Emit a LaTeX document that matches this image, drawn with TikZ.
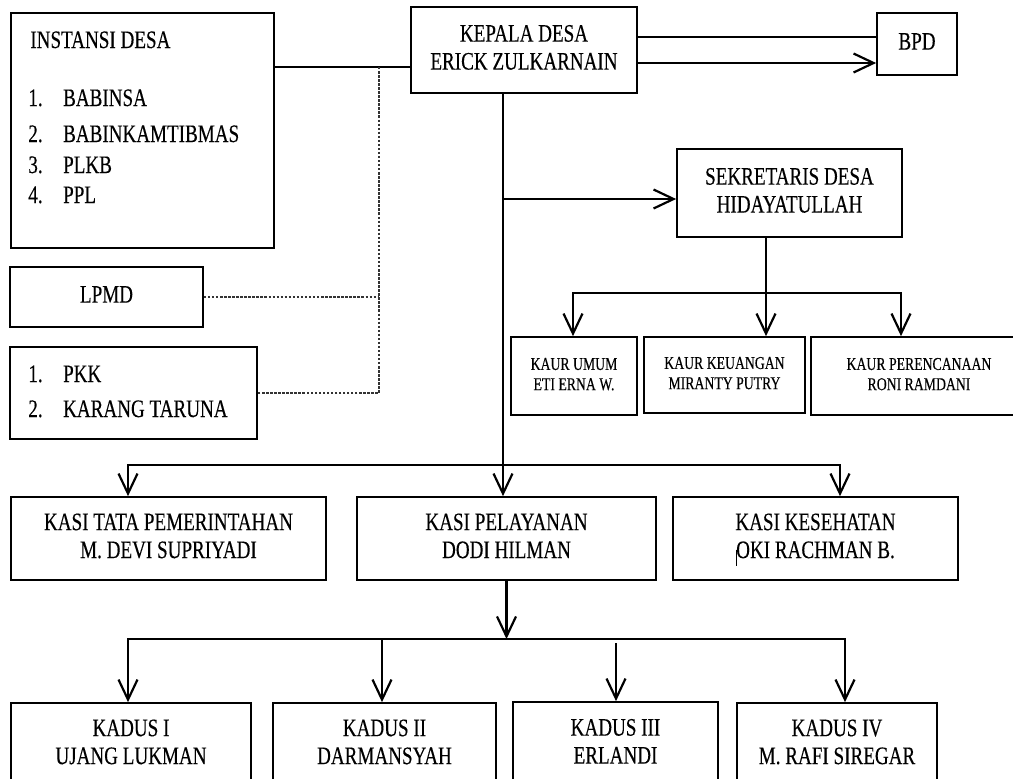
\documentclass[tikz,border=0pt]{standalone}
\usepackage{fontspec}
\setmainfont{Liberation Serif}[FakeStretch=0.76,FakeBold=0.3]
\usetikzlibrary{arrows.meta,calc}
\newcommand\cx[1]{\begin{tabular}{@{}c@{}}#1\end{tabular}}
\begin{document}
\begin{tikzpicture}[x=0.02cm,y=-0.02cm,
  >={Straight Barb[length=0.4cm,width=0.38cm]},
  box/.style={draw, line width=1pt, inner sep=0pt,
    font=\fontsize{14.3}{15.9}\selectfont},
  smallbox/.style={box, font=\fontsize{10.3}{11.5}\selectfont},
  span/.style n args={4}{at={({(#1+#3)/2},{(#2+#4)/2})},
    minimum width={(#3-#1)*0.02cm}, minimum height={(#4-#2)*0.02cm}},
  conn/.style={line width=1.25pt},
  arr/.style={conn, ->},
  dotline/.style={line width=1pt, dash pattern=on 1.4pt off 0.9pt, black!80},
  txt/.style={inner sep=0pt, anchor=base west, font=\fontsize{14.3}{15.9}\selectfont}]
\clip (0,0) rectangle (1013,778);
% boxes
\node[box, span={11}{13}{274}{248}] (inst) {};
\node[txt] (insttitle) at (30,48) {INSTANSI DESA};
\node[txt] (inst1) at (28,106) {\makebox[19.8pt][l]{1.}BABINSA};
\node[txt] (inst2) at (28,142) {\makebox[19.8pt][l]{2.}BABINKAMTIBMAS};
\node[txt] (inst3) at (28,173) {\makebox[19.8pt][l]{3.}PLKB};
\node[txt] (inst4) at (28,203) {\makebox[19.8pt][l]{4.}PPL};
\node[box, span={411}{7}{637}{93}] (kepala) {\cx{KEPALA DESA\\ERICK ZULKARNAIN}};
\node[box, span={877}{13}{957}{75}] (bpd) {\cx{BPD}};
\node[box, span={677}{149}{902}{237}] (sek) {\cx{SEKRETARIS DESA\\HIDAYATULLAH}};
\node[smallbox, span={511}{337}{637}{415}] (kauru) {\cx{KAUR UMUM\\ETI ERNA W.}};
\node[smallbox, span={644}{337}{805}{413}] (kaurk) {\cx{KAUR KEUANGAN\\MIRANTY PUTRY}};
\node[smallbox, span={811}{337}{1027}{415}] (kaurp) {\cx{KAUR PERENCANAAN\\RONI RAMDANI}};
\node[box, span={10}{267}{203}{327}] (lpmd) {\cx{LPMD}};
\node[box, span={10}{347}{257}{439}] (pkk) {};
\node[txt] (pkk1) at (28,382) {\makebox[19.8pt][l]{1.}PKK};
\node[txt] (pkk2) at (28,417) {\makebox[19.8pt][l]{2.}KARANG TARUNA};
\node[box, span={11}{497}{326}{580}] (kasit) {\cx{KASI TATA PEMERINTAHAN\\M. DEVI SUPRIYADI}};
\node[box, span={357}{497}{656}{580}] (kasip) {\cx{KASI PELAYANAN\\DODI HILMAN}};
\node[box, span={673}{497}{958}{580}] (kasik) {\cx{KASI KESEHATAN\\\rlap{\rule[-4.5pt]{0.6pt}{9pt}}OKI RACHMAN B.}};
\node[box, span={11}{703}{251}{786}] (kadus1) {\cx{KADUS I\\UJANG LUKMAN}};
\node[box, span={273}{703}{496}{786}] (kadus2) {\cx{KADUS II\\DARMANSYAH}};
\node[box, span={513}{702}{718}{786}] (kadus3) {\cx{KADUS III\\ERLANDI}};
\node[box, span={737}{703}{937}{786}] (kadus4) {\cx{KADUS IV\\M. RAFI SIREGAR}};
% junction coordinates
\coordinate (jx) at (379,67);
\coordinate (mx) at (503,0);
\coordinate (b1) at ($(kepala.east)+(0,-13)$);
\coordinate (b2) at ($(kepala.east)+(0,13)$);
\coordinate (sy) at ($(sek.west)+(0,6)$);
\coordinate (sx) at (766,293);
\coordinate (k1) at (573,293);
\coordinate (k3) at (901,293);
\coordinate (h1) at (128,465);
\coordinate (h2) at (840,465);
\coordinate (d1) at (128,639);
\coordinate (d2) at (382,639);
\coordinate (d3) at (616,643);
\coordinate (d4) at (845,639);
% connectors
\draw[conn] (inst.east |- jx) -- (kepala.west |- jx);
\draw[dotline] (jx) -- (jx |- pkk.east) -- (pkk.east);
\draw[dotline] (lpmd.east) -- (lpmd.east -| jx);
\draw[conn] (b1) -- (b1 -| bpd.west);
\draw[arr] (b2) -- (b2 -| bpd.west);
\draw[arr] (kepala.south -| mx) -- (kasip.north -| mx);
\draw[arr] (sy -| mx) -- (sy);
\draw[arr] (sek.south -| sx) -- (kaurk.north -| sx);
\draw[conn, <->] (kauru.north -| k1) -- (k1) -- (k3) -- (kaurp.north -| k3);
\draw[conn, <->] (kasit.north -| h1) -- (h1) -- (h2) -- (kasik.north -| h2);
\draw[arr] (kasip.south) -- (kasip.south |- d1);
\draw[conn, <->] (kadus1.north -| d1) -- (d1) -- (d4) -- (kadus4.north -| d4);
\draw[arr] (d2) -- (d2 |- kadus2.north);
\draw[arr] (d3) -- (d3 |- kadus3.north);
\end{tikzpicture}
\end{document}
